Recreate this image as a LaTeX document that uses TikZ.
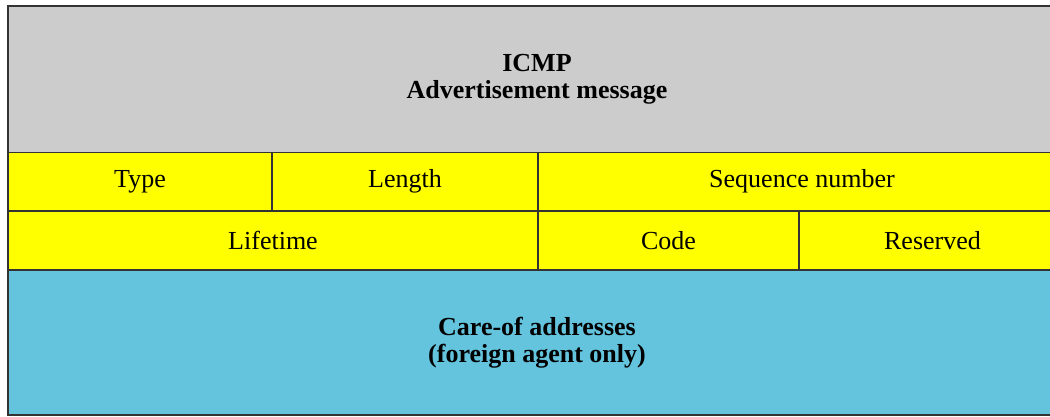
\documentclass[tikz,border=0pt]{standalone}
\usepackage{fontspec}
\setmainfont{Liberation Serif}
\definecolor{hdrgray}{HTML}{CCCCCC}
\definecolor{fieldyellow}{HTML}{FFFF00}
\definecolor{careblue}{HTML}{64C4DE}
\definecolor{edge}{HTML}{333333}
\begin{document}
\begin{tikzpicture}[x=1pt,y=1pt,
  cell/.style={draw=edge, line width=1.7pt, rectangle, inner sep=0pt, outer sep=0pt,
    align=center, text=black, font=\fontsize{26}{27}\selectfont},
  field/.style={cell, fill=fieldyellow},
  boldtxt/.style={font=\fontsize{26}{27}\selectfont\bfseries}]
\useasboundingbox (0,0) rectangle (1050,417);
\clip (0,0) rectangle (1050,417);
% header
\node[cell, fill=hdrgray, boldtxt, minimum width=1058pt, minimum height=146.5pt]
  (hdr) at (537,337.75) {ICMP\\Advertisement message};
% row 1
\node[field, minimum width=264pt, minimum height=58.5pt] (type) at (140,235.25) {Type};
\node[field, minimum width=266pt, minimum height=58.5pt] (len) at (405,235.25) {Length};
\node[field, minimum width=528pt, minimum height=58.5pt] (seq) at (802,235.25) {Sequence number};
% row 2
\node[field, minimum width=530pt, minimum height=59pt] (life) at (273,176.5) {Lifetime};
\node[field, minimum width=261pt, minimum height=59pt] (code) at (668.5,176.5) {Code};
\node[field, minimum width=267pt, minimum height=59pt] (res) at (932.5,176.5) {Reserved};
% care-of
\node[cell, fill=careblue, boldtxt, minimum width=1058pt, minimum height=145pt]
  (care) at (537,74.5) {Care-of addresses\\(foreign agent only)};
\end{tikzpicture}
\end{document}
